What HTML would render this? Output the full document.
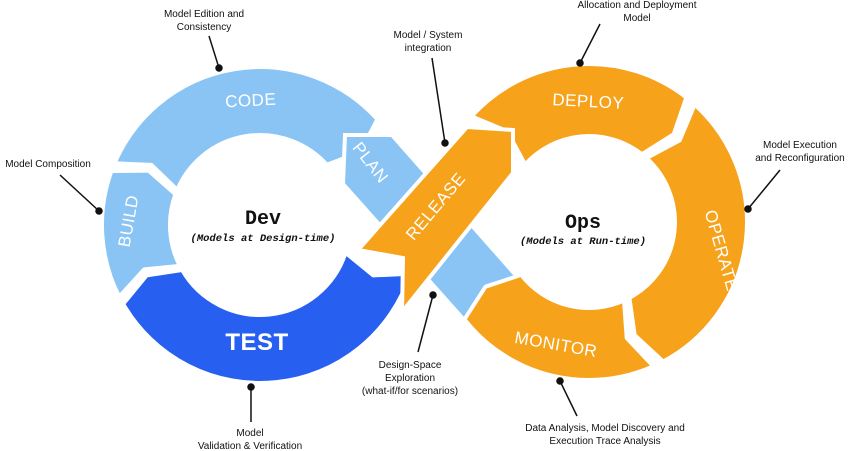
<!DOCTYPE html>
<html><head><meta charset="utf-8"><style>
html,body{margin:0;padding:0;background:#fff;width:850px;height:451px;overflow:hidden}
svg text{font-family:"Liberation Sans",sans-serif}
.lab{font-size:10px;fill:#111;text-anchor:middle}
.w{fill:#fff;font-size:17px;text-anchor:middle;letter-spacing:0.5px}
.mono{font-family:"Liberation Mono",monospace !important;font-weight:bold;text-anchor:middle;fill:#111}
</style></head><body>
<svg id="s" width="850" height="451" viewBox="0 0 850 451" xmlns="http://www.w3.org/2000/svg">
<g id="g1"></g>
<polygon points="343,184 345,135 392,135 536,298 481,339" fill="#89C4F4" stroke="#fff" stroke-width="4"/>
<g id="g2"></g>
<polygon points="358,250 467,127 513,130 513,173 402,312 403,258" fill="#F7A21B" stroke="#fff" stroke-width="4"/>

<text class="w" transform="translate(251,106) rotate(-3)">CODE</text>
<text class="w" transform="translate(134,222) rotate(-80)">BUILD</text>
<text class="w" transform="translate(257,350)" style="font-size:24px;font-weight:bold">TEST</text>
<text class="w" transform="translate(366,166) rotate(52)">PLAN</text>
<text class="w" transform="translate(440,210) rotate(-50)">RELEASE</text>
<text class="w" transform="translate(588,107) rotate(3)">DEPLOY</text>
<text class="w" transform="translate(716,252) rotate(74)">OPERATE</text>
<text class="w" transform="translate(555,350) rotate(10)">MONITOR</text>

<text class="mono" x="263" y="224" style="font-size:20px">Dev</text>
<text class="mono" x="263" y="241" style="font-size:10.5px;font-style:italic">(Models at Design-time)</text>
<text class="mono" x="583" y="228" style="font-size:20px">Ops</text>
<text class="mono" x="583" y="244" style="font-size:10.5px;font-style:italic">(Models at Run-time)</text>

<g stroke="#111" stroke-width="1.5" fill="#111">
<line x1="209" y1="36" x2="219" y2="68"/><circle cx="219" cy="68" r="3"/>
<line x1="60" y1="175" x2="99" y2="211"/><circle cx="99" cy="211" r="3"/>
<line x1="432" y1="58" x2="445" y2="143"/><circle cx="445" cy="143" r="3"/>
<line x1="600" y1="24" x2="580" y2="63"/><circle cx="580" cy="63" r="3"/>
<line x1="780" y1="170" x2="748" y2="209"/><circle cx="748" cy="209" r="3"/>
<line x1="433" y1="295" x2="418" y2="352"/><circle cx="433" cy="295" r="3"/>
<line x1="560" y1="381" x2="577" y2="416"/><circle cx="560" cy="381" r="3"/>
<line x1="251" y1="387" x2="251" y2="422"/><circle cx="251" cy="387" r="3"/>
</g>

<text class="lab" x="204" y="17">Model Edition and</text>
<text class="lab" x="204" y="30">Consistency</text>
<text class="lab" x="48" y="167">Model Composition</text>
<text class="lab" x="428" y="38">Model / System</text>
<text class="lab" x="428" y="51">integration</text>
<text class="lab" x="637" y="8">Allocation and Deployment</text>
<text class="lab" x="637" y="21">Model</text>
<text class="lab" x="800" y="148">Model Execution</text>
<text class="lab" x="800" y="161">and Reconfiguration</text>
<text class="lab" x="410" y="368">Design-Space</text>
<text class="lab" x="410" y="381">Exploration</text>
<text class="lab" x="410" y="394">(what-if/for scenarios)</text>
<text class="lab" x="605" y="431">Data Analysis, Model Discovery and</text>
<text class="lab" x="605" y="444">Execution Trace Analysis</text>
<text class="lab" x="250" y="436">Model</text>
<text class="lab" x="250" y="449">Validation &amp; Verification</text>
</svg>
<script>
function P(cx,cy,r,a){a=a*Math.PI/180;return (cx+r*Math.cos(a)).toFixed(1)+","+(cy+r*Math.sin(a)).toFixed(1);}
function seg(cx,cy,r1,r2,a0,a1,col,d){
 var m=(r1+r2)/2;
 var s="M"+P(cx,cy,r2,a0)+" A"+r2+","+r2+" 0 "+((a1-a0)>180?1:0)+" 1 "+P(cx,cy,r2,a1)+
 " L"+P(cx,cy,m,a1+d)+" L"+P(cx,cy,r1,a1)+" A"+r1+","+r1+" 0 "+((a1-a0)>180?1:0)+" 0 "+P(cx,cy,r1,a0)+
 " L"+P(cx,cy,m,a0+d)+" Z";
 return '<path d="'+s+'" fill="'+col+'" stroke="#fff" stroke-width="4" stroke-linejoin="round"/>';
}
var LB="#89C4F4",DB="#2760F0",OR="#F7A21B";
document.getElementById("g1").innerHTML=
 seg(260,225,90,158,18,150,DB,6)+seg(260,225,90,158,153,200,LB,6)+seg(260,225,90,158,203,318,LB,6);
document.getElementById("g2").innerHTML=
 seg(589,222,86,158,-138,-52,OR,6)+seg(589,222,86,158,-48,62,OR,6)+seg(589,222,86,158,66,142,OR,6);
</script>
</body></html>
